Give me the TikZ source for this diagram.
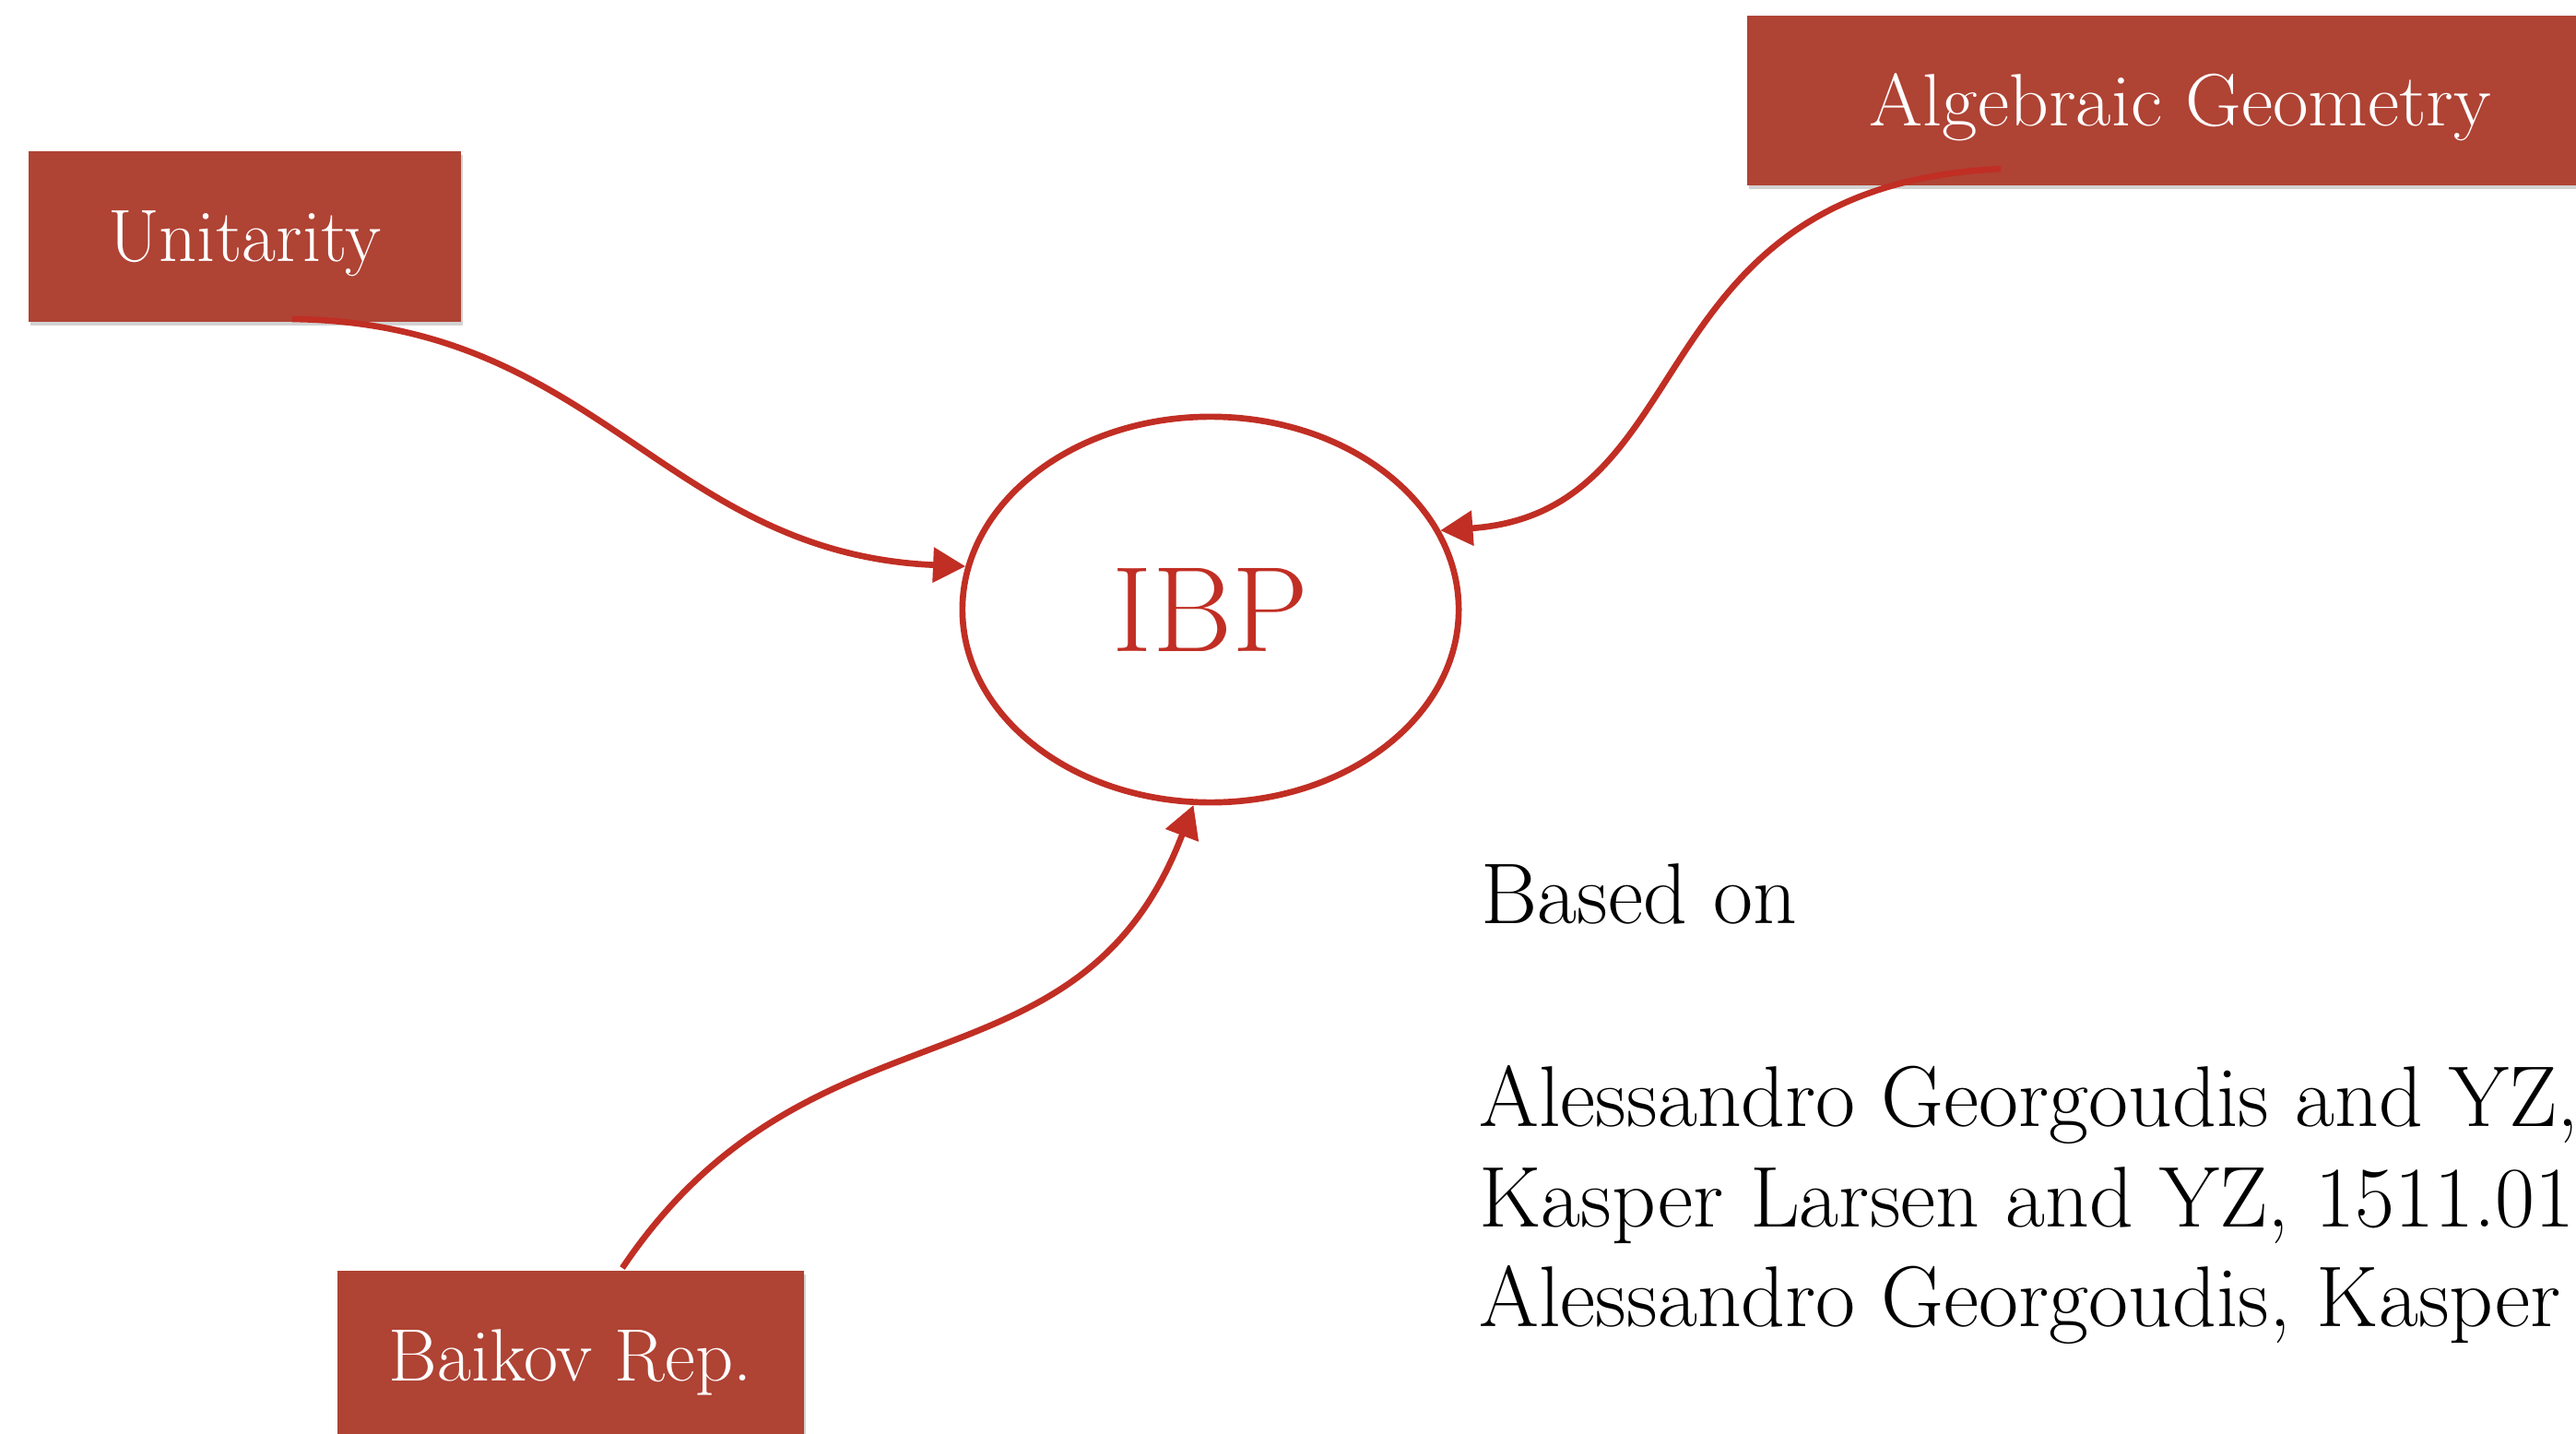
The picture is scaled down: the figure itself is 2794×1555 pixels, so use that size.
\documentclass[tikz,border=0pt]{standalone}
\usepackage{fontspec}
\usepackage{graphicx}
\usetikzlibrary{shapes.geometric,arrows.meta,shadows}

\definecolor{boxred}{RGB}{175,67,52}
\definecolor{inkred}{RGB}{193,46,36}

\begin{document}
\begin{tikzpicture}[x=0.01cm,y=-0.01cm,
  topic/.style={rectangle, fill=boxred, inner sep=0pt, anchor=north west,
    text=white, font=\fontsize{22.9pt}{27pt}\selectfont,
    text height=15.65pt, text depth=0pt, minimum height=1.85cm,
    drop shadow={shadow xshift=0.6pt, shadow yshift=-1.2pt, opacity=0.35}},
  hub/.style={ellipse, draw=inkred, line width=1.9pt, inner sep=0pt,
    text=inkred, font=\fontsize{37.5pt}{40pt}\selectfont,
    text height=25.6pt, text depth=0pt},
  link/.style={draw=inkred, line width=1.9pt,
    -{Triangle[length=10pt,width=10.5pt]}},
  body/.style={anchor=base west, inner sep=0pt,
    font=\fontsize{26.6pt}{32pt}\selectfont}
]
\useasboundingbox (0,0) rectangle (2794,1555);
\clip (0,0) rectangle (2794,1555);
\fill[white] (0,0) rectangle (2794,1555);

% topic boxes
\node[topic, minimum width=4.69cm] (unit) at (30,163) {Unitarity};
\node[topic, minimum width=9.4cm, minimum height=1.84cm] (alg) at (1894,16) {\scalebox{1.04}[1]{Algebraic Geometry}};
\node[topic, minimum width=5.06cm] (baik) at (365,1377) {Baikov Rep.};

% central ellipse
\node[hub, minimum width=5.38cm, minimum height=4.18cm] (ibp) at (1313,661) {IBP};

% start points of the connectors
\coordinate (ustart) at (317,346);
\coordinate (astart) at (2170,183);
\coordinate (bstart) at (675,1375);

% connectors
\draw[link] (ustart) .. controls (650,350) and (720,600) .. (ibp.170);
\draw[link] (astart) .. controls (1770,203) and (1852,555) .. (ibp.19);
\draw[link] (bstart) .. controls (880,1070) and (1170,1200) .. (ibp.265);

% references
\node[body] (based) at (1606,1001) {Based on};
\node[body] (refa) at (1604,1221) {Alessandro Georgoudis and YZ, 1507.06310};
\node[body] (refb) at (1604,1330) {Kasper Larsen and YZ, 1511.01071};
\node[body] (refc) at (1604,1438) {Alessandro Georgoudis, Kasper Larsen and YZ, 1612.04252};
\end{tikzpicture}
\end{document}
